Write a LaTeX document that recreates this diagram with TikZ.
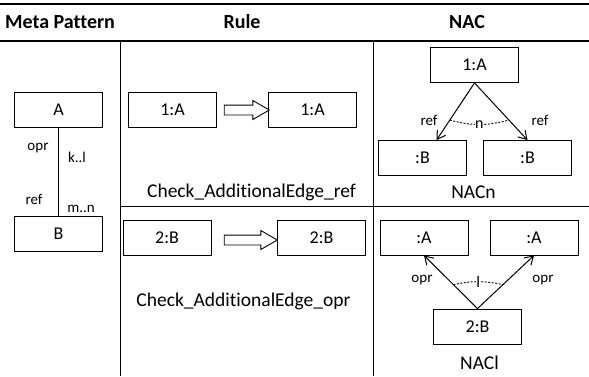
\documentclass[tikz,border=0pt]{standalone}
\usepackage{fontspec}
\setmainfont{Carlito}[Ligatures=NoCommon]
\usetikzlibrary{positioning,arrows.meta,calc,shapes.arrows}
\tikzset{
  cls/.style  ={draw, rectangle, line width=0.9pt, minimum width=88pt, minimum height=35pt, font=\fontsize{18}{21}\selectfont},
  hdr/.style  ={anchor=base, font=\bfseries\fontsize{20}{24}\selectfont},
  capt/.style ={anchor=base, font=\fontsize{19.5}{23}\selectfont},
  lbl/.style  ={font=\fontsize{15}{17}\selectfont, inner sep=1pt},
  mult/.style ={font=\fontsize{16}{18}\selectfont, fill=white, inner sep=0.5pt},
  arr/.style  ={-{Straight Barb[length=8pt,width=10pt]}, line width=1pt},
  trans/.style={draw, line width=0.9pt, single arrow, single arrow tip angle=60, single arrow head extend=4.5pt, inner sep=4.5pt, minimum height=45pt},
  rul/.style  ={line width=1.8pt},
  grd/.style  ={line width=1pt},
  dots/.style ={dash pattern=on 2pt off 1.5pt, line width=0.9pt},
}
\begin{document}
\begin{tikzpicture}[x=1pt,y=-1pt]
  \useasboundingbox (0,0) rectangle (589,376);
  \draw[rul] (0,4) -- (589,4);
  \draw[rul] (0,41) -- (589,41);
  \draw[grd] (120,41) -- (120,376);
  \draw[grd] (373,41) -- (373,376);
  \draw[grd] (120,206) -- (589,206);
  \node[hdr] (hmeta) at (60,28) {Meta Pattern};
  \node[hdr] (hrule) at (242,28) {Rule};
  \node[hdr] (hnac) at (467,28) {NAC};

  \node[cls] (mA) at (58.5,109.5) {A};
  \node[cls] (mB) at (58.5,233.5) {B};
  \draw[grd] (mA) -- (mB);
  \node[lbl] (mopr) at (38,148) {opr};
  \node[lbl] (mkl) at (77,157) {k..l};
  \node[lbl] (mref) at (34,199) {ref};
  \node[lbl] (mmn) at (81,209) {m..n};

  \node[cls] (r1) at (172.5,109.5) {1:A};
  \node[cls] (r2) at (312.5,109.5) {1:A};
  \node[trans] (t1) at (242.5,110) {};
  \node[capt] (cref) at (251.5,197) {Check\_AdditionalEdge\_ref};
  \node[cls] (r3) at (167,238) {2:B};
  \node[cls] (r4) at (321.5,238) {2:B};
  \node[trans, minimum height=53pt] (t2) at (246.5,240) {};
  \node[capt] (copr) at (243.5,306) {Check\_AdditionalEdge\_opr};

  \node[cls] (n1) at (474.5,65) {1:A};
  \node[cls] (n2) at (422.5,158) {:B};
  \node[cls] (n3) at (527.5,158) {:B};
  \draw[arr] (n1.south) -- coordinate[pos=0.65] (p1) (n2.52);
  \draw[arr] (n1.south) -- coordinate[pos=0.65] (p2) (n3.north);
  \draw[dots] (p1) to[bend right=15] node[mult] {n} (p2);
  \node[lbl] (nref1) at (429,120) {ref};
  \node[lbl] (nref2) at (540,120) {ref};
  \node[capt] (cnacn) at (473.5,198) {NACn};

  \node[cls] (q1) at (424,237.5) {:A};
  \node[cls] (q2) at (534,237.5) {:A};
  \node[cls] (q3) at (477.5,326.5) {2:B};
  \draw[arr] (q3.north) -- coordinate[pos=0.45] (p3) (q1.south);
  \draw[arr] (q3.north) -- coordinate[pos=0.45] (p4) (q2.south);
  \draw[dots] (p3) to[bend left=12] node[mult] {l} (p4);
  \node[lbl] (qopr1) at (422,280) {opr};
  \node[lbl] (qopr2) at (543,280) {opr};
  \node[capt] (cnacl) at (479.5,369) {NACl};
\end{tikzpicture}
\end{document}
